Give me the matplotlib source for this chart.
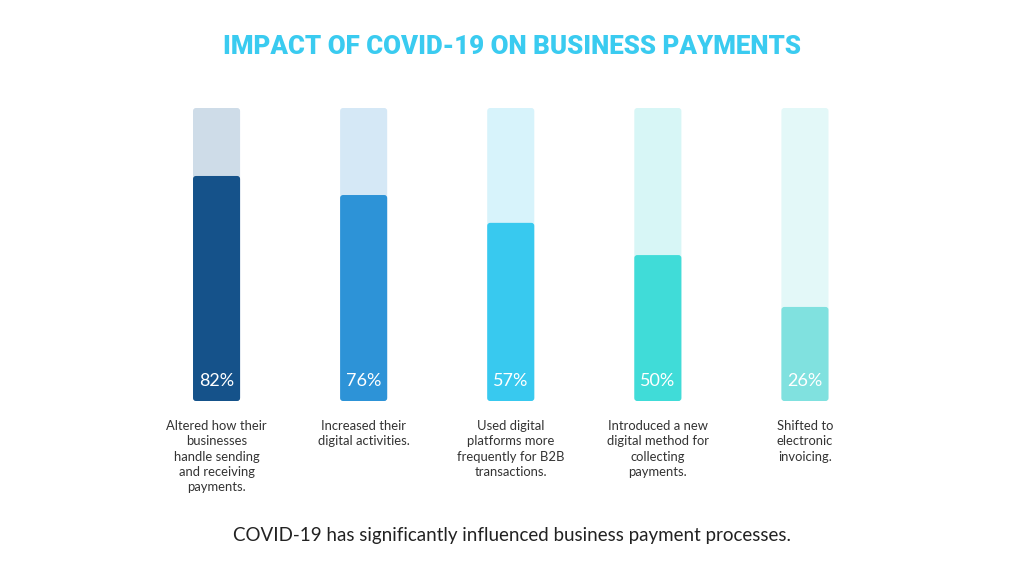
import matplotlib
matplotlib.use('Agg')
import matplotlib.pyplot as plt
from matplotlib.patches import FancyBboxPatch

# values shown on each bar
percent_labels = [82, 76, 57, 50, 26]
# filled height of each bar (track = 100)
fill_levels = [76.8, 70.3, 60.8, 49.8, 32.1]
descriptions = [
    'Altered how their\nbusinesses\nhandle sending\nand receiving\npayments.',
    'Increased their\ndigital activities.',
    'Used digital\nplatforms more\nfrequently for B2B\ntransactions.',
    'Introduced a new\ndigital method for\ncollecting\npayments.',
    'Shifted to\nelectronic\ninvoicing.',
]
fill_colors = ['#15528A', '#2D93D7', '#38C9EF', '#40DCD8', '#80E1DF']
track_colors = ['#CEDCE8', '#D5E8F6', '#D7F3FB', '#D7F6F6', '#E3F8F8']

fig = plt.figure(figsize=(10.24, 5.76), dpi=100)
fig.patch.set_facecolor('white')

# axes placed so that bars sit where the reference draws them
ax = fig.add_axes([143 / 1024, 175 / 576, 735.5 / 1024, 293 / 576])
ax.set_xlim(-0.5, len(percent_labels) - 0.5)
ax.set_ylim(0, 100)
ax.axis('off')

bar_w = 0.32
for i, (lvl, pct) in enumerate(zip(fill_levels, percent_labels)):
    track = FancyBboxPatch((i - bar_w / 2, 0), bar_w, 100,
                           boxstyle='round,pad=0,rounding_size=0.02',
                           mutation_aspect=100 / 293 * 735.5 / 5,
                           facecolor=track_colors[i], edgecolor='none')
    ax.add_patch(track)
    fill = FancyBboxPatch((i - bar_w / 2, 0), bar_w, lvl,
                          boxstyle='round,pad=0,rounding_size=0.02',
                          mutation_aspect=100 / 293 * 735.5 / 5,
                          facecolor=fill_colors[i], edgecolor='none')
    ax.add_patch(fill)
    ax.text(i, 6.8, f'{pct}%', ha='center', va='center', color='white',
            fontsize=13, family='Lato')
    ax.text(i, -6.5, descriptions[i], ha='center', va='top', color='#333333',
            fontsize=9.4, family='Lato', linespacing=1.33)

fig.text(0.5, 1 - 47 / 576, 'IMPACT OF COVID-19 ON BUSINESS PAYMENTS',
         ha='center', va='center', color='#3ACBF0', fontsize=18.6,
         fontweight='heavy', family=['Roboto', 'DejaVu Sans'])

fig.text(0.5, 1 - 535 / 576,
         'COVID-19 has significantly influenced business payment processes.',
         ha='center', va='center', color='#222222', fontsize=13.5, family='Lato')

fig.savefig('out.png', dpi=100, facecolor='white')
